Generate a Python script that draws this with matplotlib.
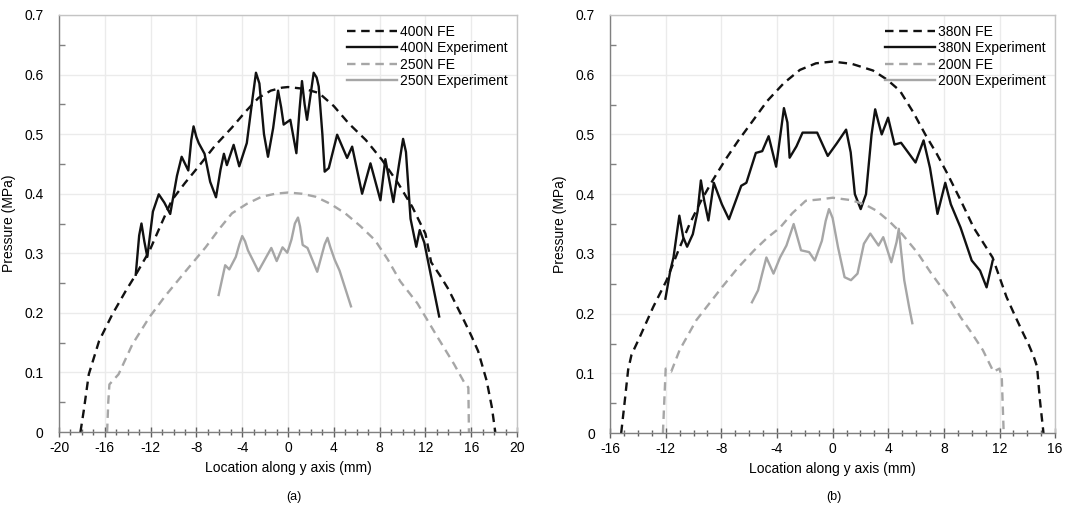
import matplotlib
matplotlib.use("Agg")
import matplotlib.pyplot as plt
from matplotlib.ticker import MultipleLocator

plt.rcParams['font.family'] = ['Liberation Sans', 'DejaVu Sans']
plt.rcParams['axes.unicode_minus'] = False

# ---- panel (a) ----
fe400_x = [-18.13, -17.84, -17.4, -16.5, -15.36, -14.2, -13.3, -12.1, -11.1, -10.15, -9.0, -7.8, -6.4,
           -4.9, -3.7, -2.57, -1.5, -0.52, 0.0, 1.4, 2.7, 4.0, 5.3, 6.8, 8.2, 9.6, 10.85, 12.0, 12.5,
           13.3, 14.0, 14.7, 15.4, 16.0, 16.6, 17.35, 17.8, 18.1]
fe400_y = [0.0, 0.036, 0.097, 0.153, 0.197, 0.236, 0.264, 0.304, 0.348, 0.389, 0.418, 0.446, 0.48,
           0.511, 0.538, 0.561, 0.573, 0.578, 0.579, 0.576, 0.569, 0.547, 0.518, 0.49, 0.457, 0.418,
           0.378, 0.333, 0.285, 0.262, 0.24, 0.213, 0.186, 0.162, 0.136, 0.086, 0.042, 0.0]

exp400_x = [-13.3, -13.0, -12.8, -12.55, -12.29, -11.8, -11.29, -10.8, -10.29, -9.7, -9.29, -8.71, -8.45,
            -8.25, -8.0, -7.8, -7.29, -6.8, -6.29, -5.9, -5.6, -5.34, -4.75, -4.26, -3.6, -3.1, -2.8,
            -2.5, -2.1, -1.75, -1.3, -0.87, -0.6, -0.38, 0.2, 0.73, 1.0, 1.22, 1.45, 1.66, 2.0, 2.24,
            2.5, 2.68, 3.0, 3.2, 3.56, 4.29, 5.16, 5.6, 6.47, 7.2, 8.07, 8.5, 9.2, 9.7, 10.05, 10.3,
            10.7, 11.2, 11.5, 11.9, 13.2]
exp400_y = [0.264, 0.33, 0.35, 0.32, 0.294, 0.37, 0.399, 0.385, 0.366, 0.43, 0.462, 0.439, 0.49,
            0.513, 0.495, 0.485, 0.467, 0.42, 0.394, 0.44, 0.467, 0.448, 0.482, 0.446, 0.485, 0.56, 0.603,
            0.585, 0.5, 0.462, 0.51, 0.573, 0.545, 0.516, 0.524, 0.468, 0.54, 0.589, 0.55, 0.524, 0.57, 0.603,
            0.595, 0.58, 0.5, 0.437, 0.443, 0.499, 0.46, 0.479, 0.4, 0.451, 0.389, 0.458, 0.386, 0.45, 0.492,
            0.47, 0.358, 0.311, 0.339, 0.318, 0.194]

fe250_x = [-15.8, -15.7, -15.6, -14.8, -13.6, -12.1, -10.7, -8.9, -7.2, -6.0, -4.9, -3.6, -2.3, -1.1,
           0.0, 1.2, 2.4, 3.7, 5.0, 6.3, 7.6, 8.7, 9.8, 11.3, 13.1, 14.5, 15.4, 15.75, 15.8]
fe250_y = [0.0, 0.05, 0.08, 0.097, 0.147, 0.193, 0.229, 0.271, 0.31, 0.341, 0.367, 0.383, 0.395, 0.4,
           0.402, 0.4, 0.395, 0.383, 0.367, 0.346, 0.322, 0.29, 0.253, 0.216, 0.158, 0.114, 0.083, 0.075, 0.0]

exp250_x = [-6.06, -5.49, -5.13, -4.56, -4.25, -4.0, -3.75, -3.5, -2.59, -1.46, -0.99, -0.48, -0.06, 0.3,
            0.6, 0.87, 1.05, 1.28, 1.7, 2.55, 3.2, 3.45, 3.7, 4.08, 4.5, 5.5]
exp250_y = [0.23, 0.28, 0.273, 0.294, 0.315, 0.329, 0.32, 0.305, 0.27, 0.309, 0.287, 0.31, 0.301, 0.323,
            0.35, 0.36, 0.345, 0.314, 0.309, 0.269, 0.315, 0.326, 0.31, 0.289, 0.271, 0.211]

# ---- panel (b) ----
fe380_x = [-15.2, -14.96, -14.7, -14.46, -13.86, -12.9, -11.95, -11.1, -10.28, -9.5, -8.65, -7.7, -6.8,
           -5.7, -4.7, -3.5, -2.35, -1.2, 0.0, 1.4, 2.9, 3.9, 4.84, 5.8, 6.66, 7.5, 8.28, 9.2, 10.14,
           11.5, 12.5, 13.1, 13.7, 14.1, 14.46, 14.7, 14.9, 15.16]
fe380_y = [0.0, 0.05, 0.106, 0.131, 0.161, 0.211, 0.255, 0.305, 0.35, 0.387, 0.422, 0.458, 0.489,
           0.524, 0.556, 0.586, 0.608, 0.619, 0.622, 0.618, 0.607, 0.592, 0.573, 0.537, 0.5, 0.467,
           0.433, 0.39, 0.344, 0.294, 0.228, 0.197, 0.167, 0.148, 0.128, 0.111, 0.056, 0.0]

exp380_x = [-12.02, -11.67, -11.44, -11.02, -10.74, -10.46, -10.05, -9.7, -9.47, -9.23, -8.93, -8.54,
            -7.96, -7.45, -6.57, -6.2, -5.52, -5.06, -4.6, -4.06, -3.75, -3.5, -3.25, -3.09, -2.6,
            -2.16, -1.11, -0.35, 0.3, 0.97, 1.3, 1.6, 2.02, 2.4, 2.8, 3.06, 3.3, 3.53, 3.99, 4.45, 4.92,
            5.96, 6.54, 7.0, 7.54, 8.1, 8.5, 9.2, 10.0, 10.6, 11.07, 11.5]
exp380_y = [0.225, 0.272, 0.294, 0.364, 0.328, 0.312, 0.333, 0.372, 0.423, 0.389, 0.356, 0.419,
            0.383, 0.358, 0.414, 0.419, 0.469, 0.472, 0.497, 0.446, 0.5, 0.544, 0.52, 0.461, 0.48,
            0.503, 0.503, 0.464, 0.485, 0.508, 0.47, 0.4, 0.375, 0.4, 0.5, 0.542, 0.52, 0.5, 0.528, 0.483, 0.486,
            0.453, 0.49, 0.444, 0.367, 0.419, 0.383, 0.344, 0.289, 0.272, 0.244, 0.288]

fe200_x = [-12.2, -12.0, -11.6, -11.0, -9.8, -7.96, -6.8, -5.64, -4.7, -3.78, -2.9, -1.93, -1.0, 0.0,
           1.32, 2.3, 3.18, 4.1, 5.0, 6.1, 7.1, 8.2, 9.2, 9.9, 10.8, 11.56, 12.0, 12.16, 12.3]
fe200_y = [0.0, 0.108, 0.103, 0.139, 0.189, 0.244, 0.277, 0.306, 0.327, 0.344, 0.368, 0.389, 0.391, 0.394,
           0.39, 0.383, 0.372, 0.354, 0.333, 0.302, 0.267, 0.232, 0.194, 0.171, 0.139, 0.103, 0.108, 0.094, 0.0]

exp200_x = [-5.8, -5.36, -5.06, -4.76, -4.25, -3.78, -3.32, -2.8, -2.27, -1.69, -1.28, -0.77, -0.5,
            -0.26, 0.0, 0.39, 0.86, 1.32, 1.79, 2.25, 2.71, 3.3, 3.64, 4.22, 4.6, 4.76, 4.9, 5.15, 5.5, 5.73]
exp200_y = [0.219, 0.239, 0.267, 0.294, 0.267, 0.294, 0.314, 0.35, 0.306, 0.303, 0.289, 0.322, 0.355,
            0.375, 0.36, 0.311, 0.261, 0.256, 0.267, 0.317, 0.334, 0.314, 0.328, 0.286, 0.32, 0.342, 0.31,
            0.256, 0.211, 0.184]

BLACK = '#111111'
GREY = '#a6a6a6'
dash = (0, (3.6, 2.4))
LW = 1.7

fig = plt.figure(figsize=(10.83, 5.15), dpi=100)
ax_a = fig.add_axes([0.0545, 0.161, 0.4229, 0.810])
ax_b = fig.add_axes([0.5633, 0.159, 0.411, 0.812])


def style_axes(ax, xmin, xmax):
    ax.set_xlim(xmin, xmax)
    ax.set_ylim(0, 0.7)
    ax.xaxis.set_major_locator(MultipleLocator(4))
    ax.xaxis.set_minor_locator(MultipleLocator(1))
    ax.yaxis.set_minor_locator(MultipleLocator(0.05))
    ax.set_yticks([0, 0.1, 0.2, 0.3, 0.4, 0.5, 0.6, 0.7])
    ax.set_yticklabels(['0', '0.1', '0.2', '0.3', '0.4', '0.5', '0.6', '0.7'])
    ax.grid(True, which='major', color='#ebebeb', lw=1)
    ax.set_axisbelow(True)
    for s in ax.spines.values():
        s.set_color('#c4c4c4')
        s.set_linewidth(1)
    ax.spines['bottom'].set_color('#808080')
    ax.spines['left'].set_color('#808080')
    ax.tick_params(axis='x', which='major', direction='inout', length=7, width=1, color='#606060',
                   labelsize=10, pad=3)
    ax.tick_params(axis='x', which='minor', direction='inout', length=5, width=1, color='#606060')
    ax.tick_params(axis='y', which='major', direction='out', length=0, labelsize=10, pad=11)
    ax.tick_params(axis='y', which='minor', direction='in', length=4, width=1, color='#808080')
    ax.tick_params(top=False, right=False, which='both')
    ax.set_xlabel('Location along y axis (mm)', fontsize=10, labelpad=4)
    ax.set_ylabel('Pressure (MPa)', fontsize=10, labelpad=6)
    ax.legend(loc='upper right', frameon=False, fontsize=10, handlelength=3.6,
              handletextpad=0.2, labelspacing=0.18, borderaxespad=0.3)


ax_a.plot(fe400_x, fe400_y, color=BLACK, lw=LW, ls=dash, label='400N FE')
ax_a.plot(exp400_x, exp400_y, color=BLACK, lw=LW, label='400N Experiment')
ax_a.plot(fe250_x, fe250_y, color=GREY, lw=LW, ls=dash, label='250N FE')
ax_a.plot(exp250_x, exp250_y, color=GREY, lw=LW, label='250N Experiment')
style_axes(ax_a, -20, 20)

ax_b.plot(fe380_x, fe380_y, color=BLACK, lw=LW, ls=dash, label='380N FE')
ax_b.plot(exp380_x, exp380_y, color=BLACK, lw=LW, label='380N Experiment')
ax_b.plot(fe200_x, fe200_y, color=GREY, lw=LW, ls=dash, label='200N FE')
ax_b.plot(exp200_x, exp200_y, color=GREY, lw=LW, label='200N Experiment')
style_axes(ax_b, -16, 16)

fig.text(0.271, 0.035, '(a)', ha='center', va='center', fontsize=9)
fig.text(0.770, 0.035, '(b)', ha='center', va='center', fontsize=9)

fig.savefig('out.png', dpi=100)
